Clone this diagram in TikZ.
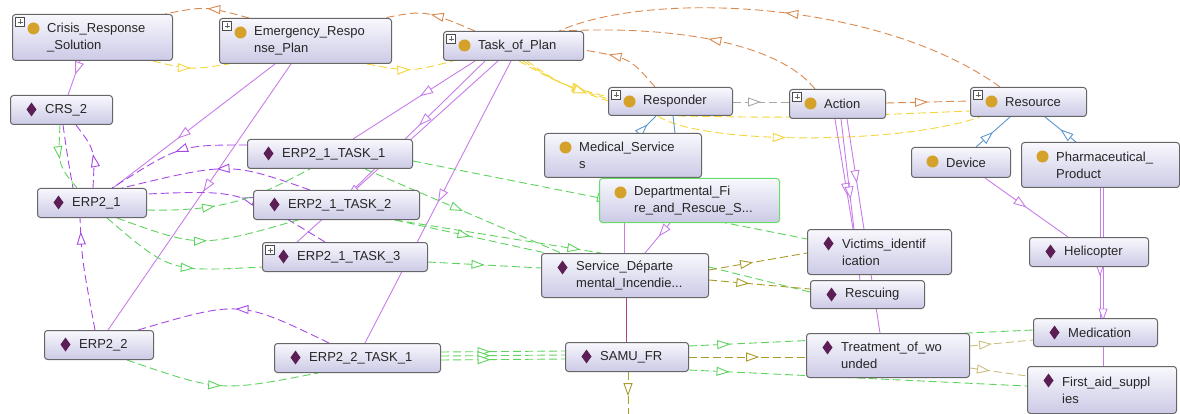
\documentclass[tikz,border=0pt]{standalone}
\usepackage{fontspec}
\setmainfont{Liberation Sans}
\usetikzlibrary{arrows.meta, positioning, decorations.markings, backgrounds}

\definecolor{clsgold}{HTML}{D4A12A}
\definecolor{indplum}{HTML}{5B1F55}
\definecolor{boxtop}{HTML}{F8F8FD}
\definecolor{boxbot}{HTML}{CCCAE6}
\definecolor{subor}{HTML}{D98A50}
\definecolor{yel}{HTML}{F5D53A}
\definecolor{gry}{HTML}{A8A8A8}
\definecolor{isab}{HTML}{5C98CC}
\definecolor{instp}{HTML}{C77CEB}
\definecolor{relp}{HTML}{A548E6}
\definecolor{grn}{HTML}{5ED35E}
\definecolor{olv}{HTML}{A89B2A}
\definecolor{olvl}{HTML}{CBBF80}
\definecolor{magl}{HTML}{B0408A}
\definecolor{grnbox}{HTML}{66DD66}

% icons inside the boxes
\newcommand{\dotic}{\fill[clsgold] ([xshift=21pt,yshift=-14pt]path picture bounding box.north west) circle[radius=6pt];}
\newcommand{\diaic}{\fill[indplum, sharp corners] ([xshift=21pt,yshift=-14pt]path picture bounding box.north west) +(0pt,7pt) -- +(5pt,0pt) -- +(0pt,-7pt) -- +(-5pt,0pt) -- cycle;}
\newcommand{\plusic}{\draw[sharp corners, draw=black!70, fill=white, line width=0.5pt] ([xshift=3pt,yshift=-3pt]path picture bounding box.north west) rectangle +(9pt,-9pt);
  \draw[sharp corners, line width=0.8pt] ([xshift=7.5pt,yshift=-5pt]path picture bounding box.north west) -- +(0pt,-5pt) ([xshift=5pt,yshift=-7.5pt]path picture bounding box.north west) -- +(5pt,0pt);}

\begin{document}
\begin{tikzpicture}[
        x=1pt, y=-1pt, % pixel grid, y pointing down
        box/.style={anchor=north west, draw=black!60, line width=1pt, rounded corners=3pt, top color=boxtop, bottom color=boxbot, inner sep=0pt},
        cls/.style={path picture={\dotic}},
        clsp/.style={path picture={\dotic\plusic}},
        ind/.style={path picture={\diaic}},
        indp/.style={path picture={\diaic\plusic}},
        lbl/.style={anchor=west, xshift=35pt, align=left, inner sep=0pt, text=black!85, font=\fontsize{13}{17}\selectfont},
        mid/.style={postaction={decorate, decoration={markings, mark=at position #1 with {\arrow{Triangle[length=13pt, width=9pt, fill=white]}}}}},
        mid/.default=0.5,
        lnk/.style={line width=0.9pt},
        dsh/.style={dash pattern=on 8pt off 4pt},
        sub/.style={lnk, dsh, draw=subor},
        yl/.style={lnk, dsh, draw=yel},
        gy/.style={lnk, dsh, draw=gry},
        isa/.style={lnk, draw=isab},
        inst/.style={lnk, draw=instp},
        rel/.style={lnk, dsh, draw=relp},
        gr/.style={lnk, dsh, draw=grn},
        ol/.style={lnk, dsh, draw=olv},
        oll/.style={lnk, dsh, draw=olvl}
      ]
      \useasboundingbox (0,0) rectangle (1180,414);

      % Classes
      \node[box, clsp, minimum width=160pt, minimum height=46pt, label={[lbl]west:{Crisis\_Response\\\_Solution}}] (crs) at (12,14) {};
      \node[box, clsp, minimum width=172pt, minimum height=45pt, label={[lbl]west:{Emergency\_Respo\\nse\_Plan}}] (erp) at (219,18) {};
      \node[box, clsp, minimum width=140pt, minimum height=29pt, label={[lbl]west:{Task\_of\_Plan}}] (top) at (443,31) {};
      \node[box, clsp, minimum width=124pt, minimum height=28pt, label={[lbl]west:{Responder}}] (resp) at (608,87) {};
      \node[box, clsp, minimum width=96pt, minimum height=29pt, label={[lbl]west:{Action}}] (act) at (789,89) {};
      \node[box, clsp, minimum width=116pt, minimum height=29pt, label={[lbl]west:{Resource}}] (res) at (970,87) {};
      \node[box, cls, minimum width=157pt, minimum height=44pt, label={[lbl]west:{Medical\_Service\\s}}] (med) at (544,133) {};
      \node[box, cls, draw=grnbox, minimum width=180pt, minimum height=44pt, label={[lbl]west:{Departmental\_Fi\\re\_and\_Rescue\_S...}}] (dfr) at (599,178) {};
      \node[box, cls, minimum width=99pt, minimum height=30pt, label={[lbl]west:{Device}}] (dev) at (911,147) {};
      \node[box, cls, minimum width=158pt, minimum height=45pt, label={[lbl]west:{Pharmaceutical\_\\Product}}] (pharm) at (1021,142) {};

      % Individuals
      \node[box, ind, minimum width=102pt, minimum height=29pt, label={[lbl]west:{CRS\_2}}] (crs2) at (10,95) {};
      \node[box, ind, minimum width=109pt, minimum height=29pt, label={[lbl]west:{ERP2\_1}}] (erp21) at (37,188) {};
      \node[box, ind, minimum width=165pt, minimum height=29pt, label={[lbl]west:{ERP2\_1\_TASK\_1}}] (t211) at (247,139) {};
      \node[box, ind, minimum width=166pt, minimum height=29pt, label={[lbl]west:{ERP2\_1\_TASK\_2}}] (t212) at (253,190) {};
      \node[box, indp, minimum width=165pt, minimum height=29pt, label={[lbl]west:{ERP2\_1\_TASK\_3}}] (t213) at (262,242) {};
      \node[box, ind, minimum width=109pt, minimum height=29pt, label={[lbl]west:{ERP2\_2}}] (erp22) at (44,330) {};
      \node[box, ind, minimum width=166pt, minimum height=29pt, label={[lbl]west:{ERP2\_2\_TASK\_1}}] (t221) at (274,343) {};
      \node[box, ind, minimum width=167pt, minimum height=44pt, label={[lbl]west:{Service\_Départe\\mental\_Incendie...}}] (sdis) at (541,253) {};
      \node[box, ind, minimum width=123pt, minimum height=29pt, label={[lbl]west:{SAMU\_FR}}] (samu) at (565,342) {};
      \node[box, ind, minimum width=144pt, minimum height=45pt, label={[lbl]west:{Victims\_identif\\ication}}] (vict) at (807,229) {};
      \node[box, ind, minimum width=114pt, minimum height=28pt, label={[lbl]west:{Rescuing}}] (rescu) at (810,280) {};
      \node[box, ind, minimum width=163pt, minimum height=44pt, label={[lbl]west:{Treatment\_of\_wo\\unded}}] (treat) at (806,333) {};
      \node[box, ind, minimum width=119pt, minimum height=29pt, label={[lbl]west:{Helicopter}}] (heli) at (1029,237) {};
      \node[box, ind, minimum width=124pt, minimum height=28pt, label={[lbl]west:{Medication}}] (medic) at (1033,318) {};
      \node[box, ind, minimum width=149pt, minimum height=47pt, label={[lbl]west:{First\_aid\_suppl\\ies}}] (first) at (1027,366) {};
      \coordinate (samuout) at (628,416);

      \begin{pgfonlayer}{background}
      % Class links
      \draw[sub, mid] ([xshift=30pt]erp.north west) .. controls (205,6) .. ([xshift=-8pt]crs.north east);
      \draw[sub, mid] ([xshift=32pt]top.north west) .. controls (425,10) .. ([xshift=-8pt]erp.north east);
      \draw[sub, mid] ([xshift=30pt]res.north west) .. controls (880,0) and (650,-10) .. ([xshift=-25pt]top.north east);
      \draw[sub, mid=0.45] ([xshift=26pt]act.north west) .. controls (780,45) and (680,25) .. ([xshift=-22pt]top.north east);
      \draw[sub, mid=0.7] ([xshift=47pt]resp.north west) .. controls (630,58) .. ([yshift=-19pt]top.north east);
      \draw[sub, mid] ([yshift=-14pt]act.north east) -- ([yshift=-14pt]res.north west);
      \draw[gy, mid] ([yshift=-15pt]resp.north east) -- ([yshift=-13pt]act.north west);
      \draw[yl, mid] ([xshift=-20pt]crs.south east) .. controls (190,70) .. ([xshift=10pt]erp.south west);
      \draw[yl, mid] ([xshift=-25pt]erp.south east) .. controls (410,72) .. ([xshift=10pt]top.south west);
      \foreach \s in {0,4,8}
        \draw[yl, mid=0.75] ([xshift=76pt+\s]top.south west) .. controls (560,84) .. ([yshift=-10pt-\s/2]resp.north west);
      \draw[yl, mid=0.4] ([xshift=50pt]resp.south west) .. controls (700,145) and (900,145) .. ([xshift=10pt]res.south west);
      \draw[yl] ([xshift=70pt]resp.south west) .. controls (800,118) .. ([yshift=-24pt]res.north west);
      \draw[isa, mid] ([xshift=95pt]med.north west) -- ([xshift=48pt]resp.south west);
      \draw[isa] ([xshift=131pt]med.north west) -- ([xshift=65pt]resp.south west);
      \draw[isa, mid] ([xshift=65pt]dev.north west) -- ([xshift=40pt]res.south west);
      \draw[isa, mid] ([xshift=55pt]pharm.north west) -- ([xshift=75pt]res.south west);

      % Class to individual
      \draw[inst, mid=0.4] ([xshift=68pt]crs.south west) -- ([xshift=58pt]crs2.north west);
      \draw[inst, mid=0.6] ([xshift=56pt]erp.south west) -- ([xshift=76pt]erp21.north west);
      \draw[inst, mid=0.48] ([xshift=72pt]erp.south west) -- ([xshift=64pt]erp22.north west);
      \draw[inst, mid=0.45] ([xshift=32pt]top.south west) -- ([xshift=106pt]t211.north west);
      \draw[inst, mid] ([xshift=42pt]top.south west) -- ([xshift=100pt]t212.north west);
      \draw[inst, mid=0.75] ([xshift=55pt]top.south west) -- ([xshift=35pt]t213.north west);
      \draw[inst, mid] ([xshift=68pt]top.south west) -- ([xshift=91pt]t221.north west);
      \draw[inst, mid=0.45] ([xshift=71pt]dfr.south west) -- ([xshift=104pt]sdis.north west);
      \draw[inst] ([xshift=25pt]dfr.south west) -- ([xshift=83pt]sdis.north west);
      \draw[lnk, draw=magl] ([xshift=85pt]sdis.south west) -- ([xshift=61pt]samu.north west);
      \draw[inst, mid=0.7] ([xshift=46pt]act.south west) -- ([xshift=46pt]vict.north west);
      \draw[inst, mid=0.5] ([xshift=52pt]act.south west) -- ([xshift=50pt]rescu.north west);
      \draw[inst, mid=0.3] ([xshift=58pt]act.south west) -- ([xshift=74pt]treat.north west);
      \draw[inst, mid] ([xshift=74pt]dev.south west) -- ([xshift=39pt]heli.north west);
      \draw[inst, mid=0.68] ([xshift=79pt]pharm.south west) -- ([xshift=67pt]medic.north west);
      \draw[inst, mid=0.75] ([xshift=82pt]pharm.south west) -- ([xshift=76pt]first.north west);

      % Individual links
      \draw[rel, mid] ([xshift=56pt]erp21.north west) .. controls (95,150) .. ([xshift=66pt]crs2.south west);
      \draw[rel] ([xshift=53pt]crs2.south west) .. controls (68,160) .. ([xshift=36pt]erp21.north west);
      \draw[rel, mid] ([yshift=-6pt]t211.north west) .. controls (180,145) .. ([xshift=75pt]erp21.north west);
      \draw[rel, mid] ([xshift=57pt]t212.north west) .. controls (230,162) .. ([xshift=85pt]erp21.north west);
      \draw[rel, mid] ([xshift=63pt]t213.north west) .. controls (240,190) .. ([yshift=-6pt]erp21.north east);
      \draw[rel, mid=0.88] ([xshift=51pt]erp22.north west) .. controls (82,260) .. ([xshift=43pt]erp21.south west);
      \draw[rel, mid] ([xshift=55pt]t221.north west) .. controls (240,300) .. ([xshift=94pt]erp22.north west);
      \draw[gr, mid] ([xshift=50pt]crs2.south west) .. controls (58,165) .. ([xshift=40pt]erp21.north west);
      \draw[gr, mid=0.4] ([yshift=-22pt]erp21.north east) .. controls (230,212) and (260,195) .. ([xshift=63pt]t211.south west);
      \draw[gr, mid] ([xshift=80pt]erp21.south west) .. controls (200,248) .. ([xshift=45pt]t212.south west);
      \draw[gr, mid=0.6] ([xshift=70pt]erp21.south west) .. controls (170,272) .. ([yshift=-25pt]t213.north west);
      \draw[gr, mid] ([yshift=-22pt]t211.north east) -- ([yshift=-10pt]vict.north west);
      \draw[gr, mid] ([xshift=118pt]t211.south west) -- ([xshift=20pt]sdis.north west);
      \draw[gr, mid] ([xshift=142pt]t212.south west) -- ([xshift=5pt]sdis.north west);
      \draw[gr, mid=0.9] ([xshift=142pt]t212.south west) -- ([xshift=60pt]sdis.north west);
      \draw[gr, mid] ([yshift=-20pt]t213.north east) -- ([yshift=-15pt]sdis.north west);
      \draw[gr, mid] ([xshift=83pt]erp22.south west) .. controls (220,392) .. ([xshift=44pt]t221.south west);
      \foreach \s in {9,13,17}
        \draw[gr, mid=0.4] ([yshift=-\s pt]t221.north east) -- ([yshift=-\s pt]samu.north west);
      \draw[gr, mid=0.12] ([yshift=-4pt]samu.north east) -- ([yshift=-12pt]medic.north west);
      \draw[gr, mid=0.12] ([yshift=-28pt]samu.north east) -- ([yshift=-20pt]first.north west);
      \draw[gr] ([yshift=-14pt]sdis.north east) -- ([yshift=-12pt]rescu.north west);
      \draw[ol, mid=0.45] ([yshift=-17pt]sdis.north east) -- ([yshift=-24pt]vict.north west);
      \draw[ol, mid=0.4] ([yshift=-27pt]sdis.north east) -- ([yshift=-9pt]rescu.north west);
      \draw[ol, mid=0.6] ([yshift=-15pt]samu.north east) -- ([yshift=-24pt]treat.north west);
      \draw[ol, mid=0.55] ([xshift=63pt]samu.south west) -- (samuout);
      \draw[oll, mid=0.35] ([yshift=-13pt]treat.north east) -- ([yshift=-22pt]medic.north west);
      \draw[oll, mid=0.35] ([yshift=-35pt]treat.north east) -- ([yshift=-10pt]first.north west);
      \end{pgfonlayer}

    \end{tikzpicture}
\end{document}
